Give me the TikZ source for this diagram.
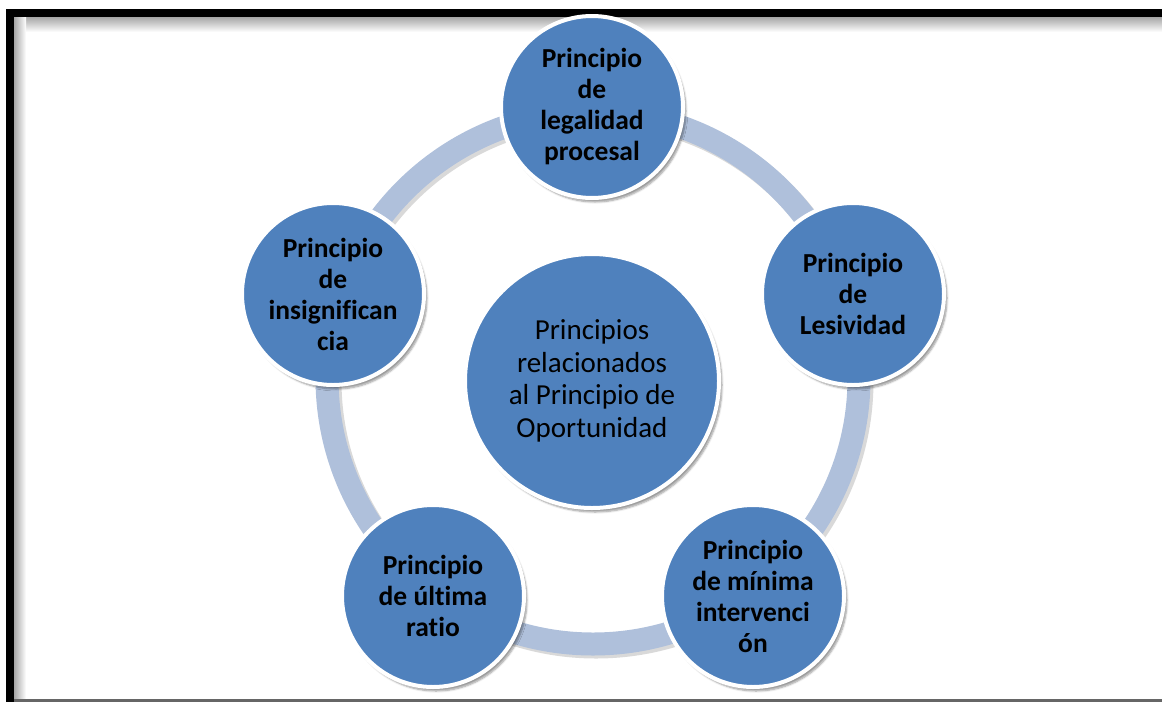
\documentclass[tikz,border=0pt]{standalone}
\usepackage{fontspec}
\setmainfont{Carlito}[Ligatures=NoCommon]
\usetikzlibrary{shadows.blur}
\definecolor{circblue}{HTML}{4F81BD}
\definecolor{ringblue}{HTML}{AFC0DB}
\tikzset{principio/.style={circle, fill=circblue, draw=white, line width=4pt,
    minimum size=182pt, inner sep=0pt, align=center,
    font=\fontsize{27.5}{31}\selectfont\bfseries,
    blur shadow={shadow xshift=3pt, shadow yshift=-4pt, shadow blur steps=6}},
  centro/.style={principio, minimum size=254pt, font=\fontsize{29}{32.5}\selectfont},
  anillo/.style={ringblue, line width=23pt}}
\begin{document}
\begin{tikzpicture}[x=1pt,y=-1pt]
\useasboundingbox (0,0) rectangle (1162,702);

% marco
\shade[top color=black!35, bottom color=white] (14,17) rectangle (1162,32);
\shade[left color=black!35, right color=white] (14,17) rectangle (26,699);
\fill (6,9) rectangle (1162,17);
\fill (6,9) rectangle (14,702);
\fill[black!60] (14,699) rectangle (1162,702);

% anillo
\coordinate (mitte) at (593,378);
\draw[anillo, black, opacity=.15] ([shift={(3,3)}]mitte) circle [radius=266pt];
\draw[anillo] (mitte) circle [radius=266pt];

\node[centro] (oportunidad) at (592,381) {Principios\\relacionados\\al Principio de\\Oportunidad};

\foreach \pos/\name/\txt in {
    {592,107}/legalidad/{Principio\\de\\legalidad\\procesal},
    {853,294}/lesividad/{Principio\\de\\Lesividad},
    {753,596}/minima/{Principio\\de mínima\\intervenci\\ón},
    {433,596}/ultima/{Principio\\de última\\ratio},
    {333,294}/insignificancia/{Principio\\de\\insignifican\\cia}}
    \node[principio] (\name) at (\pos) {\txt};

\end{tikzpicture}
\end{document}
